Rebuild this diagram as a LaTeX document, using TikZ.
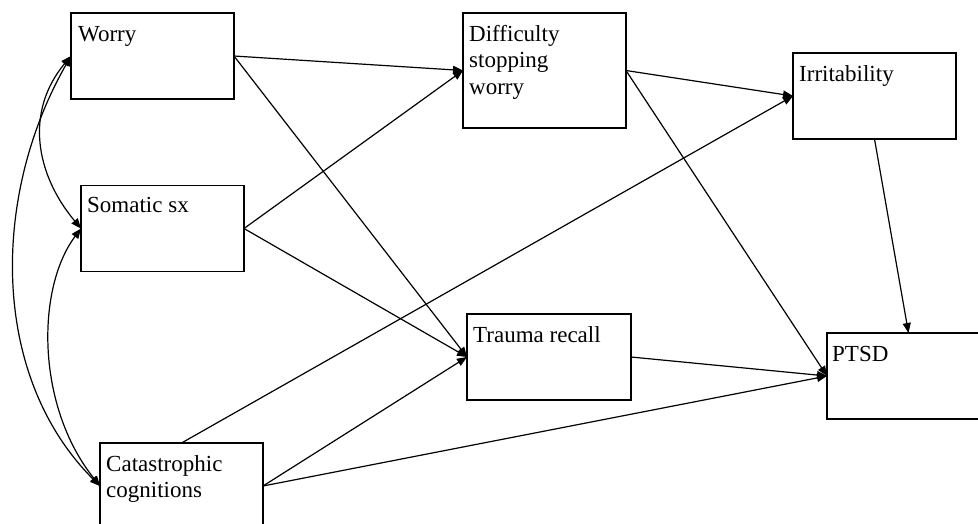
\documentclass[tikz,border=0pt]{standalone}
\usepackage{fontspec}
\setmainfont{Liberation Serif}
\usetikzlibrary{arrows.meta,calc}
\begin{document}
\begin{tikzpicture}[x=1pt,y=-1pt,
  box/.style={draw,line width=1.2pt,minimum width=163pt,minimum height=86pt,inner sep=0pt,outer sep=0pt},
  txt/.style={anchor=base west,inner sep=0pt,align=left,font=\fontsize{23}{26.5}\selectfont},
  link/.style={line width=1.2pt,-{Triangle[length=10pt,width=8pt]}},
  both/.style={line width=1.2pt,{Triangle[length=10pt,width=8pt]}-{Triangle[length=10pt,width=8pt]}}]
\useasboundingbox (0,0) rectangle (978,523);
\node[box] (worry) at (152.5,56) {};
\node[box] (som) at (162.5,228.5) {};
\node[box] (cat) at (181.5,486) {};
\node[box,minimum height=115pt] (diff) at (544.5,70.5) {};
\node[box] (irr) at (874.5,96) {};
\node[box,minimum width=164pt] (trauma) at (549,357) {};
\node[box] (ptsd) at (908.5,376) {};
\node[txt] (tworry) at ($(worry.north west)+(7,28)$) {Worry};
\node[txt] (tsom) at ($(som.north west)+(6,27)$) {Somatic sx};
\node[txt] (tcat) at ($(cat.north west)+(6,54.5)$) {Catastrophic\\cognitions};
\node[txt] (tdiff) at ($(diff.north west)+(6,81)$) {Difficulty\\stopping\\worry};
\node[txt] (tirr) at ($(irr.north west)+(6,28)$) {Irritability};
\node[txt] (ttrauma) at ($(trauma.north west)+(6,28)$) {Trauma recall};
\node[txt] (tptsd) at ($(ptsd.north west)+(5,28)$) {PTSD};
\draw[link] (worry.east) -- (diff.west);
\draw[link] (worry.east) -- (trauma.west);
\draw[link] (som.east) -- (diff.west);
\draw[link] (som.east) -- (trauma.west);
\draw[link] (cat.north) -- (irr.west);
\draw[link] (cat.east) -- (trauma.west);
\draw[link] (cat.east) -- (ptsd.west);
\draw[link] (diff.east) -- (irr.west);
\draw[link] (diff.east) -- (ptsd.west);
\draw[link] (trauma.east) -- (ptsd.west);
\draw[link] (irr.south) -- (ptsd.north);
\draw[both] (worry.west) .. controls +(-46,55) and +(-46,-55) .. (som.west);
\draw[both] (worry.west) .. controls +(-80,140) and +(-110,-110) .. (cat.west);
\draw[both] (som.west) .. controls +(-45,60) and +(-64,-80) .. (cat.west);
\end{tikzpicture}
\end{document}
